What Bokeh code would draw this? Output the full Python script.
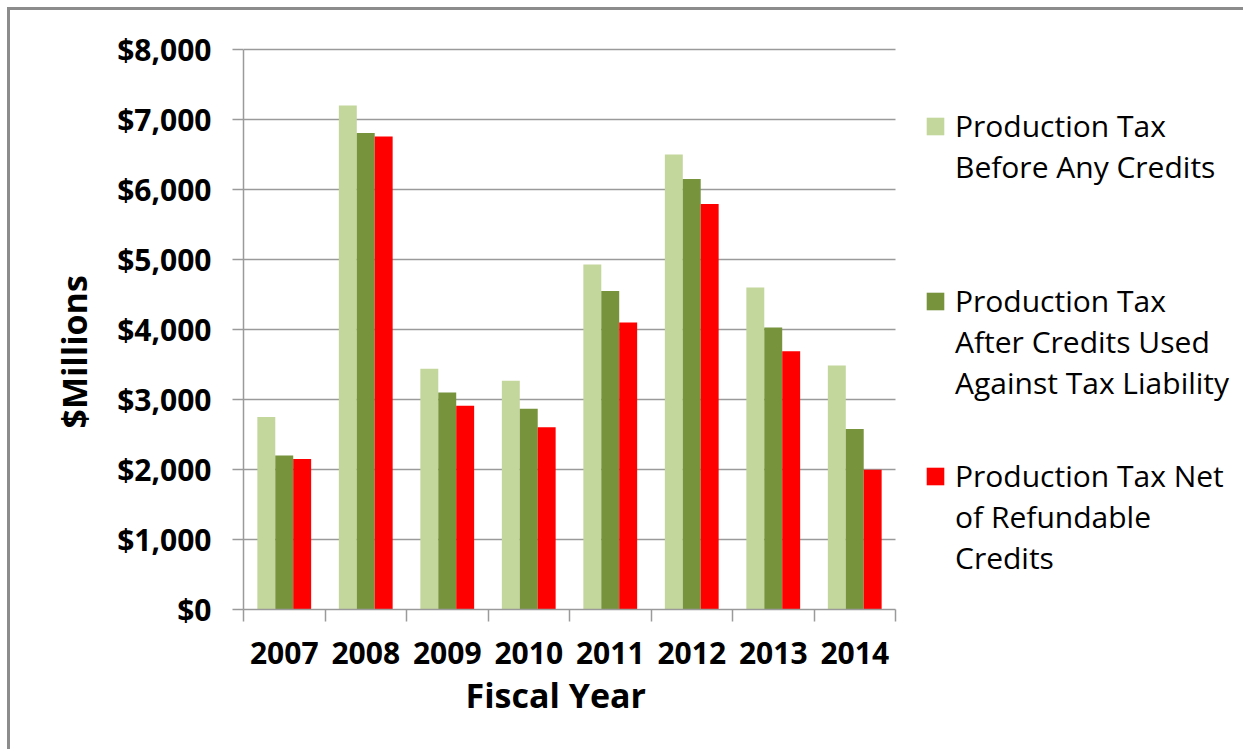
from bokeh.plotting import figure
from bokeh.layouts import column
from bokeh.models import (Range1d, FixedTicker, NumeralTickFormatter, Legend,
                          LegendItem, ColumnDataSource, Title)
from bokeh.transform import dodge
from bokeh.embed import file_html
from bokeh.resources import INLINE

years = ["2007", "2008", "2009", "2010", "2011", "2012", "2013", "2014"]
before_credits = [2750, 7200, 3440, 3270, 4930, 6500, 4600, 3485]
after_credits = [2200, 6810, 3100, 2870, 4550, 6150, 4030, 2580]
net_refundable = [2150, 6760, 2910, 2605, 4100, 5795, 3690, 1995]
series_labels = [
    ["Production Tax", "Before Any Credits"],
    ["Production Tax", "After Credits Used", "Against Tax Liability"],
    ["Production Tax Net", "of Refundable", "Credits"],
]
colors = ["#c3d69b", "#77933c", "#ff0000"]
y_ticks = [0, 1000, 2000, 3000, 4000, 5000, 6000, 7000, 8000]

FONT = "Open Sans"
GRAY = "#9a9a9a"

W, H = 1236, 742
ML, MR, MT, MB = 233, 10, 37, 143
DATA_W = 652  # pixel width of the bar area; the rest of the frame holds the legend
frame_w = W - ML - MR
n = len(years)
x_end = n * frame_w / DATA_W

xpos = [i + 0.5 for i in range(n)]
src = ColumnDataSource(dict(x=xpos, before=before_credits,
                            after=after_credits, net=net_refundable))
grid_src = ColumnDataSource(dict(x0=[0] * (len(y_ticks) - 1), x1=[n] * (len(y_ticks) - 1),
                                 y=y_ticks[1:]))

p = figure(width=W, height=H, output_backend="svg", toolbar_location=None,
           x_range=Range1d(0, x_end), y_range=Range1d(0, 8030),
           min_border_left=ML, min_border_right=MR, min_border_top=MT,
           min_border_bottom=MB)
p.outline_line_color = None
p.background_fill_color = "white"
p.border_fill_color = "white"
p.xgrid.grid_line_color = None
p.ygrid.grid_line_color = None

# horizontal gridlines over the bar area only
p.segment(x0="x0", x1="x1", y0="y", y1="y", source=grid_src,
          line_color=GRAY, line_width=1.5)

bw = 0.22
renderers = []
for field, off, col in zip(["before", "after", "net"], [-bw, 0, bw], colors):
    r = p.vbar(x=dodge("x", off, range=p.x_range), top=field, width=bw,
               source=src, fill_color=col, line_color=None)
    renderers.append(r)

# invisible renderer used for the continuation lines of the legend labels
blank = p.vbar(x=[], top=[], width=bw, fill_alpha=0, line_alpha=0)

# x axis: labels at centres, ticks at category boundaries
xa = p.xaxis[0]
xa.bounds = (0, n)
xa.ticker = FixedTicker(ticks=xpos, minor_ticks=list(range(n + 1)))
xa.major_label_overrides = {x: y for x, y in zip(xpos, years)}
xa.major_tick_out = 0
xa.major_tick_in = 0
xa.minor_tick_out = 12
xa.minor_tick_in = 0
xa.minor_tick_line_color = GRAY
xa.minor_tick_line_width = 1.5
xa.axis_line_color = GRAY
xa.axis_line_width = 1.5
xa.major_label_text_font = FONT
xa.major_label_text_font_style = "bold"
xa.major_label_text_font_size = "30px"
xa.major_label_text_color = "black"
xa.major_label_standoff = 20

ya = p.yaxis[0]
ya.bounds = (0, 8000)
ya.ticker = FixedTicker(ticks=y_ticks, minor_ticks=[])
ya.formatter = NumeralTickFormatter(format="$0,0")
ya.major_tick_out = 11
ya.major_tick_in = 0
ya.minor_tick_out = 0
ya.major_tick_line_color = GRAY
ya.major_tick_line_width = 1.5
ya.axis_line_color = GRAY
ya.axis_line_width = 1.5
ya.major_label_text_font = FONT
ya.major_label_text_font_style = "bold"
ya.major_label_text_font_size = "30px"
ya.major_label_text_color = "black"
ya.major_label_standoff = 21

xt = Title(text="Fiscal Year", align="left", offset=222, standoff=7,
           text_font=FONT, text_font_style="bold", text_font_size="34px",
           text_color="black")
p.add_layout(xt, "below")
yt = Title(text="$Millions", align="left", offset=181, standoff=36,
           text_font=FONT, text_font_style="bold", text_font_size="34px",
           text_color="black")
p.add_layout(yt, "left")

legend_bottoms = [422, 206, 31]
for r, lines, lb in zip(renderers, series_labels, legend_bottoms):
    items = [LegendItem(label=lines[0], renderers=[r])]
    items += [LegendItem(label=t, renderers=[blank]) for t in lines[1:]]
    lg = Legend(items=items, location=(681, lb), orientation="vertical",
                glyph_width=22, glyph_height=22, label_standoff=9,
                padding=0, margin=0, spacing=0,
                border_line_color=None, background_fill_alpha=0,
                label_text_font=FONT, label_text_font_size="30px",
                label_text_color="black")
    p.add_layout(lg, "center")

page = column(p, styles={"margin-left": "10px", "margin-top": "10px",
                         "box-shadow": "-3px -3px 0px 0px #8c8c8c"})

open("out.html", "w").write(file_html(page, INLINE))
